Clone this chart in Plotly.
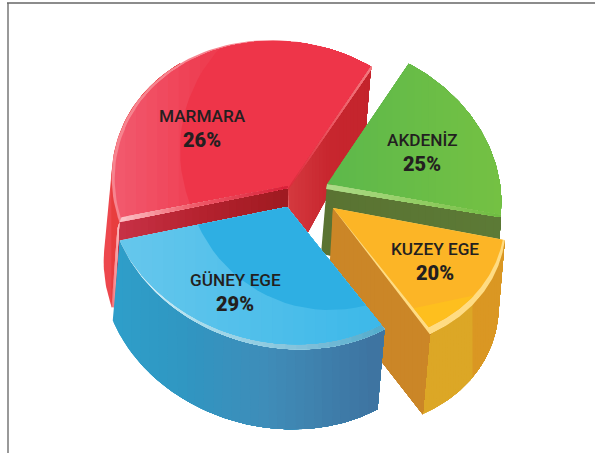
import numpy as np
import plotly.graph_objects as go

# ---------- data ----------
categories = ["MARMARA", "AKDENİZ", "KUZEY EGE", "GÜNEY EGE"]
percent_labels = [26, 25, 20, 29]
# angular size of each slice as actually drawn in the reference (degrees)
drawn_sweep_deg = [137, 67, 50, 106]

# ---------- layout constants (pixel space of the 595x453 page) ----------
W, H = 595, 453
TILT = np.radians(15)
GEOM = {
    "MARMARA":   dict(c=(285, 190), a=175, b=148, apex=(288, 188), start=73),
    "AKDENİZ":   dict(c=(328, 190), a=175, b=148, apex=(327, 184), start=8),
    "KUZEY EGE": dict(c=(333, 209), a=175, b=138, apex=(333, 208), start=-44),
    "GÜNEY EGE": dict(c=(282, 204), a=175, b=143, apex=(287, 207), start=212.7),
}
LABEL_POS = {"MARMARA": (202, 116), "AKDENİZ": (422, 140), "KUZEY EGE": (435, 249), "GÜNEY EGE": (235, 280)}

fig = go.Figure()


def hex2rgb(h):
    h = h.lstrip("#")
    return np.array([int(h[i:i + 2], 16) for i in (0, 2, 4)], float)


def mix(stops, f):
    pos = [s[0] for s in stops]
    rgb = np.array([hex2rgb(s[1]) for s in stops])
    v = [np.interp(f, pos, rgb[:, i]) for i in range(3)]
    return "rgb(%d,%d,%d)" % tuple(int(round(x)) for x in v)


def clip_half(poly, nx, ny, d):
    """keep nx*x + ny*y <= d"""
    out = []
    n = len(poly)
    for i in range(n):
        p, q = poly[i], poly[(i + 1) % n]
        fp = nx * p[0] + ny * p[1] - d
        fq = nx * q[0] + ny * q[1] - d
        if fp <= 0:
            out.append(p)
        if (fp < 0 < fq) or (fq < 0 < fp):
            s = fp / (fp - fq)
            out.append((p[0] + s * (q[0] - p[0]), p[1] + s * (q[1] - p[1])))
    return out


def clip_convex(poly, conv):
    cx = np.mean([p[0] for p in conv])
    cy = np.mean([p[1] for p in conv])
    res = list(poly)
    m = len(conv)
    for i in range(m):
        p, q = conv[i], conv[(i + 1) % m]
        nx, ny = q[1] - p[1], -(q[0] - p[0])
        d = nx * p[0] + ny * p[1]
        if nx * cx + ny * cy > d:
            nx, ny, d = -nx, -ny, -d
        res = clip_half(res, nx, ny, d)
        if not res:
            break
    return res


def hull(points):
    pts = sorted(set((float(p[0]), float(p[1])) for p in points))

    def half(seq):
        out = []
        for p in seq:
            while len(out) >= 2 and ((out[-1][0] - out[-2][0]) * (p[1] - out[-2][1])
                                     - (out[-1][1] - out[-2][1]) * (p[0] - out[-2][0])) <= 0:
                out.pop()
            out.append(p)
        return out[:-1]

    return half(pts) + half(pts[::-1])


def add_poly(poly, color):
    if len(poly) < 3:
        return
    xs = [p[0] for p in poly] + [poly[0][0]]
    ys = [p[1] for p in poly] + [poly[0][1]]
    fig.add_trace(go.Scatter(x=xs, y=ys, mode="lines", fill="toself", fillcolor=color,
                             line=dict(color=color, width=0), hoverinfo="skip", showlegend=False))


def grad_poly(poly, stops, bands=24):
    """horizontal gradient: paint from left to right, each layer covering the rest of the shape"""
    if len(stops) == 1:
        add_poly(poly, stops[0][1])
        return
    xs = [p[0] for p in poly]
    x0, x1 = min(xs), max(xs)
    ed = np.linspace(x0, x1, bands + 1)
    for i in range(bands):
        piece = clip_half(poly, -1, 0, -ed[i]) if i else list(poly)
        if len(piece) >= 3:
            add_poly(piece, mix(stops, ((ed[i] + ed[i + 1]) / 2 - x0) / (x1 - x0)))


def ell(c, a, b, t):
    t = np.radians(t)
    u, v = a * np.cos(t), b * np.sin(t)
    return (c[0] + u * np.cos(TILT) + v * np.sin(TILT),
            c[1] + u * np.sin(TILT) - v * np.cos(TILT))


def arc(c, a, b, t0, t1, n=70):
    return [ell(c, a, b, t) for t in np.linspace(t0, t1, n)]


def shift(p, off):
    return (p[0] + off[0], p[1] + off[1])


def slice_parts(name):
    g = GEOM[name]
    i = categories.index(name)
    t0, t1 = g["start"], g["start"] + drawn_sweep_deg[i]
    return g, t0, t1


def outer_wall(name, off, stops, bands=30):
    g, t0, t1 = slice_parts(name)
    top = arc(g["c"], g["a"], g["b"], t0, t1, n=120)
    poly = top + [shift(p, off) for p in reversed(top)]
    xs = [p[0] for p in poly]
    x0, x1 = min(xs), max(xs)
    ed = np.linspace(x0, x1, bands + 1)
    step = (x1 - x0) / bands
    for i in range(bands):
        t = [p for p in top if p[0] >= ed[i] - step]
        b = [shift(p, off) for p in top]
        b = [p for p in b if p[0] >= ed[i] - step]
        if len(t) < 2 or len(b) < 2:
            continue
        add_poly(t + b[::-1], mix(stops, ((ed[i] + ed[i + 1]) / 2 - x0) / (x1 - x0)))


def radial_wall(p_apex, p_rim, off_apex, off_rim, stops):
    grad_poly([p_apex, p_rim, shift(p_rim, off_rim), shift(p_apex, off_apex)], stops)


def circle(c, r, n=90):
    return [(c[0] + r * np.cos(t), c[1] + r * np.sin(t)) for t in np.linspace(0, 2 * np.pi, n, endpoint=False)]


# ---------- MARMARA ----------
g, t0, t1 = slice_parts("MARMARA")
P_r, P_l = ell(g["c"], g["a"], g["b"], t0), ell(g["c"], g["a"], g["b"], t1)
# the visible part of the outer wall is the left side of the slice
side = arc(g["c"], g["a"], g["b"], 140, t1, n=60)
side_hull = hull(side + [shift(p, (-8, 84)) for p in side])
grad_poly(side_hull, [(0, "#f2525c"), (0.1, "#e83d3e"), (1, "#e83d3e")], bands=10)
radial_wall(g["apex"], P_r, (1, 79), (-5, 59), [(0, "#d5393f"), (0.5, "#c7262e"), (1, "#c4242c")])
radial_wall(g["apex"], P_l, (0, 79), (-8, 85), [(0, "#c93348"), (0.5, "#b5222f"), (1, "#9e1a20")])
wedge = [g["apex"]] + arc(g["c"], g["a"], g["b"], t0, t1)
add_poly(wedge, "#f6848f")
inner = clip_convex([g["apex"]] + arc((g["c"][0] + 3, g["c"][1] + 1), g["a"], g["b"], t0 - 1, t1 + 1), wedge)
grad_poly(inner, [(0, "#f25a6e"), (0.2, "#f0495e"), (0.35, "#ee3d50"), (1, "#ee3a4c")])
add_poly(clip_convex(inner, circle((330, 150), 150)), "#ee3549")
# bright edges of the red slice
grad_poly([P_l, g["apex"], shift(g["apex"], (0, -2)), shift(P_l, (2, -5))],
          [(0, "#fcc4c8"), (0.45, "#ef5a68"), (1, "#d81f38")])
grad_poly([P_r, shift(P_r, (0, 3)), shift(g["apex"], (0, 2)), g["apex"]],
          [(0, "#dc2a3a"), (0.55, "#ec5a64"), (1, "#f27a80")])
grad_poly([P_l, shift(P_l, (-2, 6)), shift(P_l, (-8, 85)), shift(P_l, (-5, 85))],
          [(0, "#f36a70"), (1, "#fbc0c4")], bands=6)

# ---------- AKDENİZ ----------
g, t0, t1 = slice_parts("AKDENİZ")
P_r, P_l = ell(g["c"], g["a"], g["b"], t1), ell(g["c"], g["a"], g["b"], t0)
radial_wall(g["apex"], P_l, (-6, 70), (-3, 70), [(0, "#5a7332"), (1, "#5c7a36")])
wedge = [g["apex"]] + arc(g["c"], g["a"], g["b"], t0, t1)
grad_poly(wedge, [(0, "#5cb84b"), (1, "#75c143")])
grad_poly([g["apex"], P_l, shift(P_l, (-1, 2)), shift(g["apex"], (-1, 5))],
          [(0, "#aedb88"), (0.6, "#8fcb5f"), (1, "#6dbb40")])

# ---------- KUZEY EGE ----------
g, t0, t1 = slice_parts("KUZEY EGE")
OFF = (-7, 80)
P_low, P_hi = ell(g["c"], g["a"], g["b"], t0), ell(g["c"], g["a"], g["b"], t1)
outer_wall("KUZEY EGE", OFF, [(0, "#dca726"), (0.62, "#dca726"), (0.63, "#da9723"), (1, "#da9723")])
radial_wall(g["apex"], P_low, (-5, 85), OFF, [(0, "#cb8627"), (1, "#cb8627")])
wedge = [g["apex"]] + arc(g["c"], g["a"], g["b"], t0, t1)
add_poly(wedge, "#ffdc83")
inner = clip_convex([g["apex"]] + arc((g["c"][0] - 1, g["c"][1] - 7), g["a"], g["b"], t0, t1 + 1), wedge)
add_poly(inner, "#fcb526")
add_poly(clip_half(inner, -0.21, -0.98, -(0.21 * 420 + 0.98 * 307)), "#febf1e")

# ---------- GÜNEY EGE ----------
g, t0, t1 = slice_parts("GÜNEY EGE")
outer_wall("GÜNEY EGE", (-7, 80), [(0, "#2ea0ca"), (0.3, "#3096c2"), (0.6, "#3f8cb8"), (1, "#3e73a0")])
wedge = [g["apex"]] + arc(g["c"], g["a"], g["b"], t0, t1)
grad_poly(wedge, [(0, "#e4f4fa"), (0.3, "#a8dcec"), (0.7, "#80c0da"), (1, "#52accc")])
inner = clip_convex([g["apex"]] + arc((g["c"][0] - 3, g["c"][1] - 5), g["a"], g["b"], t0 - 2, t1 + 2), wedge)
grad_poly(inner, [(0, "#66c7ec"), (1, "#3cb8e9")])
add_poly(clip_convex(inner, circle((330, 165), 145)), "#2eafe3")

# ---------- labels ----------
annotations = []
for name, pct in zip(categories, percent_labels):
    x, y = LABEL_POS[name]
    annotations.append(dict(x=x, y=y, text=name, showarrow=False, xref="x", yref="y",
                            font=dict(family="Roboto", size=17.2, weight=500, color="#231f20")))
    annotations.append(dict(x=x, y=y + 24, text="%d%%" % pct, showarrow=False, xref="x", yref="y",
                            font=dict(family="Roboto", size=20, weight=900, color="#231f20")))

fig.update_layout(
    width=W, height=H, margin=dict(l=0, r=0, t=0, b=0),
    paper_bgcolor="white", plot_bgcolor="white", showlegend=False,
    xaxis=dict(range=[0, W], visible=False, fixedrange=True),
    yaxis=dict(range=[H, 0], visible=False, fixedrange=True),
    annotations=annotations,
    shapes=[
        dict(type="line", x0=8, x1=8, y0=3, y1=H, line=dict(color="#777777", width=1.5)),
        dict(type="line", x0=7, x1=W, y0=3, y1=3, line=dict(color="#666666", width=1.5)),
    ],
)
fig.write_html("out.html", config=dict(displayModeBar=False),
               post_script="document.body.style.margin='0';")
